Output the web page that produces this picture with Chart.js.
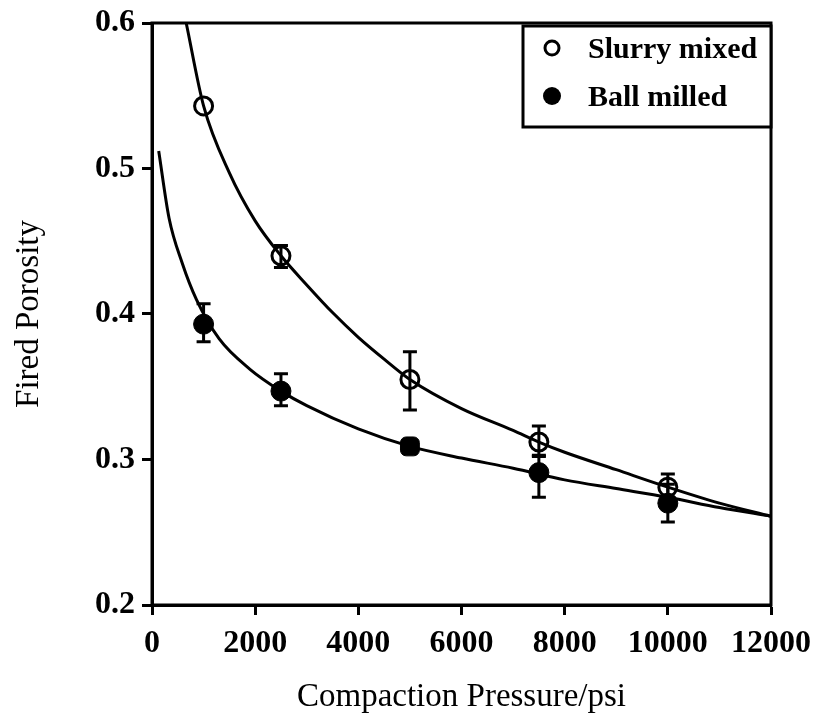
<!DOCTYPE html>
<html>
<head>
<meta charset="utf-8">
<title>Fired Porosity vs Compaction Pressure</title>
<script src="https://cdn.jsdelivr.net/npm/chart.js@4/dist/chart.umd.min.js"></script>
<style>
  body { margin: 0; background: #fff; }
  canvas { display: block; }
</style>
</head>
<body>
<canvas id="porosityChart" width="814" height="719"></canvas>
<script>
// measured points (psi)
const pressures = [1000, 2500, 5000, 7500, 10000];

// slurry mixed samples
const slurryMean = [0.543, 0.440, 0.355, 0.312, 0.281];
const slurryLow  = [0.543, 0.432, 0.334, 0.302, 0.272];
const slurryHigh = [0.543, 0.447, 0.374, 0.323, 0.290];

// ball milled samples
const milledMean = [0.393, 0.347, 0.309, 0.291, 0.270];
const milledLow  = [0.381, 0.337, 0.306, 0.274, 0.257];
const milledHigh = [0.407, 0.359, 0.312, 0.303, 0.283];

// fitted curves
const slurryFitP = [663, 1000, 1500, 2000, 2500, 3000, 3500, 4000, 4500, 5000, 6000, 7000, 7500, 8000, 9000, 10000, 11000, 12000];
const slurryFitV = [0.600, 0.543, 0.497, 0.464, 0.440, 0.420, 0.401, 0.384, 0.369, 0.355, 0.335, 0.320, 0.312, 0.305, 0.293, 0.281, 0.270, 0.261];
const milledFitP = [130, 330, 585, 860, 1300, 1900, 2500, 3000, 4000, 5000, 6000, 7000, 8000, 9000, 10000, 11000, 12000];
const milledFitV = [0.512, 0.466, 0.435, 0.410, 0.383, 0.362, 0.347, 0.337, 0.321, 0.309, 0.301, 0.294, 0.286, 0.280, 0.274, 0.267, 0.261];

const xTicks = [0, 2000, 4000, 6000, 8000, 10000, 12000];
const yTicks = [0.2, 0.3, 0.4, 0.5, 0.6];

const serif = "'Liberation Serif', 'Times New Roman', serif";

function toXY(xs, ys) {
    return xs.map((x, i) => ({ x: x, y: ys[i] }));
}

// vertical error bars with caps, drawn under the markers
const errorBars = {
    id: 'errorBars',
    beforeDatasetsDraw(chart) {
        const { ctx, scales: { x, y } } = chart;
        const sets = [[slurryLow, slurryHigh], [milledLow, milledHigh]];
        ctx.save();
        ctx.strokeStyle = '#000';
        ctx.lineWidth = 3;
        sets.forEach(([lo, hi]) => {
            pressures.forEach((p, i) => {
                if (hi[i] - lo[i] < 0.001) return;
                const px = x.getPixelForValue(p);
                const top = y.getPixelForValue(hi[i]);
                const bot = y.getPixelForValue(lo[i]);
                ctx.beginPath();
                ctx.moveTo(px, top); ctx.lineTo(px, bot);
                ctx.moveTo(px - 7, top); ctx.lineTo(px + 7, top);
                ctx.moveTo(px - 7, bot); ctx.lineTo(px + 7, bot);
                ctx.stroke();
            });
        });
        ctx.restore();
    }
};

// box around the plot and the boxed legend in the top right corner
const frameAndLegend = {
    id: 'frameAndLegend',
    afterDraw(chart) {
        const { ctx, chartArea: a } = chart;
        ctx.save();
        ctx.strokeStyle = '#000';
        ctx.lineWidth = 3;
        ctx.strokeRect(a.left, a.top, a.right - a.left, a.bottom - a.top);

        const bx = a.right - 248, by = a.top + 3, bw = 248, bh = 101;
        ctx.fillStyle = '#fff';
        ctx.fillRect(bx, by, bw, bh);
        ctx.strokeRect(bx, by, bw, bh);

        const items = chart.data.datasets.filter(d => d.label);
        items.forEach((d, i) => {
            const cy = by + 22 + i * 48;
            const cx = bx + 29;
            ctx.beginPath();
            ctx.arc(cx, cy, i === 0 ? 7 : 9, 0, Math.PI * 2);
            if (i === 0) {
                ctx.lineWidth = 3;
                ctx.stroke();
            } else {
                ctx.fillStyle = '#000';
                ctx.fill();
            }
            ctx.fillStyle = '#000';
            ctx.font = 'bold 30px ' + serif;
            ctx.textBaseline = 'middle';
            ctx.fillText(d.label, bx + 65, cy + 2);
        });
        ctx.restore();
    }
};

new Chart(document.getElementById('porosityChart'), {
    type: 'scatter',
    data: {
        datasets: [
            {
                label: 'Slurry mixed',
                data: toXY(pressures, slurryMean),
                pointStyle: 'circle',
                pointRadius: 9,
                pointBorderWidth: 3,
                borderColor: '#000',
                backgroundColor: 'rgba(255,255,255,0)',
                showLine: false
            },
            {
                label: 'Ball milled',
                data: toXY(pressures, milledMean),
                pointStyle: ['circle', 'circle', 'rectRounded', 'circle', 'circle'],
                pointRadius: [10, 10, 11, 10, 10],
                pointBorderWidth: 1,
                borderColor: '#000',
                backgroundColor: '#000',
                showLine: false
            },
            {
                data: toXY(slurryFitP, slurryFitV),
                showLine: true,
                pointRadius: 0,
                borderColor: '#000',
                borderWidth: 3,
                cubicInterpolationMode: 'monotone'
            },
            {
                data: toXY(milledFitP, milledFitV),
                showLine: true,
                pointRadius: 0,
                borderColor: '#000',
                borderWidth: 3,
                cubicInterpolationMode: 'monotone'
            }
        ]
    },
    options: {
        responsive: false,
        animation: false,
        devicePixelRatio: 1,
        layout: { padding: { top: 23, right: 43, left: 0, bottom: 0 } },
        plugins: {
            legend: { display: false },
            tooltip: { enabled: false }
        },
        scales: {
            x: {
                type: 'linear',
                min: 0,
                max: 12000,
                afterBuildTicks: s => { s.ticks = xTicks.map(v => ({ value: v })); },
                afterFit: s => {
                    s.height = 114;
                    // keep the end labels from shrinking the plot
                    s.paddingLeft = 0;
                    s.paddingRight = 0;
                },
                ticks: {
                    color: '#000',
                    padding: 10,
                    maxRotation: 0,
                    callback: v => String(v),
                    font: { family: serif, size: 32, weight: 'bold' }
                },
                grid: { drawOnChartArea: false, tickLength: 10, tickWidth: 3, tickColor: '#000' },
                border: { color: '#000', width: 3 },
                title: {
                    display: true,
                    text: 'Compaction Pressure/psi',
                    color: '#000',
                    padding: { top: 0, bottom: 2 },
                    font: { family: serif, size: 33 }
                }
            },
            y: {
                min: 0.2,
                max: 0.6,
                afterBuildTicks: s => { s.ticks = yTicks.map(v => ({ value: v })); },
                afterFit: s => {
                    s.width = 152;
                    s.paddingTop = 0;
                    s.paddingBottom = 0;
                },
                ticks: {
                    color: '#000',
                    padding: 7,
                    callback: v => v.toFixed(1),
                    font: { family: serif, size: 32, weight: 'bold' }
                },
                grid: { drawOnChartArea: false, tickLength: 10, tickWidth: 3, tickColor: '#000' },
                border: { color: '#000', width: 3 },
                title: {
                    display: true,
                    text: 'Fired Porosity',
                    color: '#000',
                    padding: { top: 10, bottom: 0 },
                    font: { family: serif, size: 33 }
                }
            }
        }
    },
    plugins: [errorBars, frameAndLegend]
});
</script>
</body>
</html>
